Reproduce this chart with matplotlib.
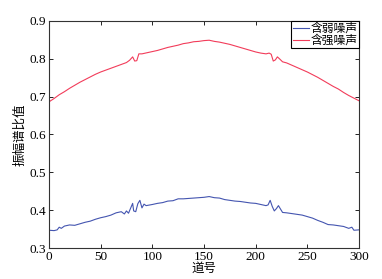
import matplotlib.pyplot as plt

# trace numbers and amplitude spectrum ratios
weak_x = [0, 5, 8, 10, 12, 15, 20, 25, 30, 35, 40, 45, 50, 55, 60, 65, 70, 73, 75, 77,
          79, 81, 82, 84, 86, 88, 90, 92, 94, 100, 105, 110, 115, 120, 125, 130, 135,
          140, 145, 150, 155, 160, 165, 170, 175, 180, 185, 190, 195, 200, 205, 210,
          212, 214, 216, 218, 220, 222, 224, 226, 230, 235, 240, 245, 250, 255, 260,
          265, 270, 275, 280, 285, 290, 293, 295, 300]
weak_y = [0.347, 0.346, 0.348, 0.355, 0.352, 0.358, 0.361, 0.360, 0.364, 0.368, 0.371,
          0.376, 0.380, 0.383, 0.387, 0.393, 0.396, 0.390, 0.398, 0.392, 0.405, 0.418,
          0.398, 0.396, 0.417, 0.426, 0.406, 0.416, 0.412, 0.415, 0.418, 0.420, 0.424,
          0.425, 0.430, 0.430, 0.431, 0.432, 0.433, 0.434, 0.436, 0.433, 0.432, 0.428,
          0.426, 0.424, 0.423, 0.421, 0.419, 0.418, 0.415, 0.412, 0.414, 0.426, 0.410,
          0.398, 0.404, 0.412, 0.403, 0.394, 0.393, 0.391, 0.389, 0.387, 0.383, 0.379,
          0.373, 0.368, 0.362, 0.361, 0.359, 0.357, 0.352, 0.355, 0.347, 0.348]

strong_x = [0, 5, 10, 15, 20, 25, 30, 35, 40, 45, 50, 55, 60, 65, 70, 75, 78, 81, 83, 85,
            87, 90, 95, 100, 105, 110, 115, 120, 125, 130, 135, 140, 145, 150, 155, 160,
            165, 170, 175, 180, 185, 190, 195, 200, 205, 210, 213, 215, 217, 219, 221,
            223, 226, 230, 235, 240, 245, 250, 255, 260, 265, 270, 275, 280, 285, 290,
            295, 300]
strong_y = [0.686, 0.695, 0.705, 0.713, 0.722, 0.730, 0.738, 0.745, 0.752, 0.759, 0.765,
            0.770, 0.775, 0.780, 0.785, 0.790, 0.796, 0.805, 0.794, 0.795, 0.813, 0.813,
            0.816, 0.819, 0.822, 0.826, 0.830, 0.833, 0.836, 0.840, 0.842, 0.845, 0.846,
            0.848, 0.849, 0.846, 0.844, 0.841, 0.838, 0.834, 0.830, 0.826, 0.822, 0.818,
            0.815, 0.813, 0.815, 0.812, 0.794, 0.797, 0.805, 0.800, 0.792, 0.789, 0.783,
            0.777, 0.771, 0.765, 0.758, 0.751, 0.743, 0.735, 0.727, 0.720, 0.711, 0.703,
            0.696, 0.689]

labels = ['含弱噪声', '含强噪声']

plt.rcParams['font.family'] = ['Liberation Serif', 'Noto Sans CJK SC']
plt.rcParams['xtick.direction'] = 'in'
plt.rcParams['ytick.direction'] = 'in'

fig = plt.figure(figsize=(3.82, 2.79), dpi=100)
ax = fig.add_axes([0.128, 0.111, 0.812, 0.814])

ax.plot(weak_x, weak_y, color='#4455b0', lw=0.8, label=labels[0])
ax.plot(strong_x, strong_y, color='#f23c5a', lw=0.8, label=labels[1])

ax.set_xlim(0, 300)
ax.set_ylim(0.3, 0.9)
ax.set_xticks(range(0, 301, 50))
ax.set_yticks([0.3, 0.4, 0.5, 0.6, 0.7, 0.8, 0.9])
ax.tick_params(labelsize=9.5, length=3, width=0.6, top=True, right=True, pad=2)
for s in ax.spines.values():
    s.set_linewidth(0.8)
    s.set_color('#333333')

ax.set_xlabel('道号', fontsize=9, labelpad=-1, family=['Noto Sans CJK SC'])
ax.set_ylabel('振幅谱比值', fontsize=9, labelpad=2, family=['Noto Sans CJK SC'])

leg = ax.legend(loc='upper right', prop={'family': 'Noto Sans CJK SC', 'size': 8.5},
                frameon=True, fancybox=False, framealpha=1, edgecolor='black',
                borderpad=0.1, labelspacing=-0.1, handlelength=1.4, handletextpad=0.15,
                borderaxespad=0)
leg.get_frame().set_linewidth(0.8)

fig.savefig('out.png', dpi=100)
